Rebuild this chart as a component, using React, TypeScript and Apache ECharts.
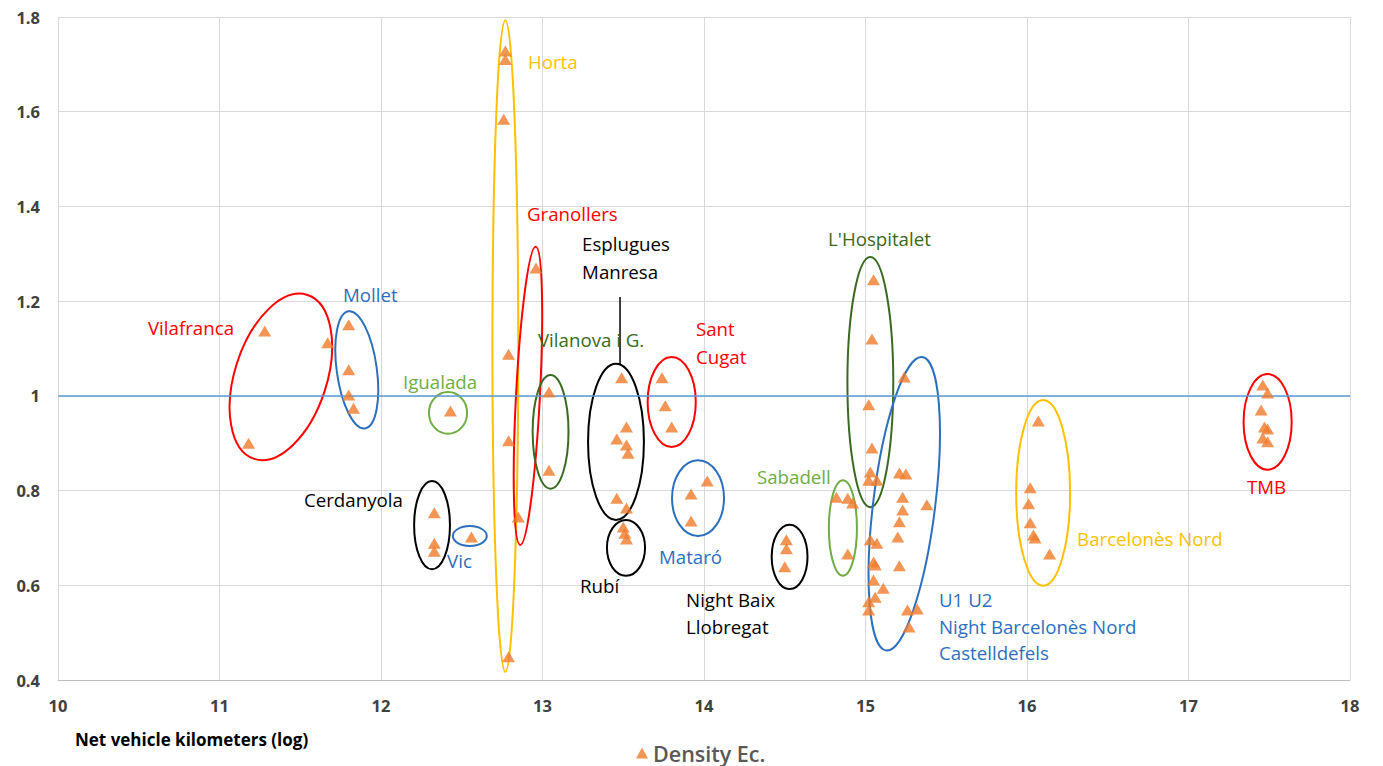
import React, { useEffect, useRef } from "react";
import * as echarts from "echarts";

// x: net vehicle kilometers (log), y: density
const densityX = [
  11.28, 11.67, 11.18,
  11.8, 11.8, 11.8, 11.83,
  12.43,
  12.33, 12.33, 12.33,
  12.56,
  12.77, 12.77, 12.76, 12.79, 12.79, 12.79,
  12.96, 12.85,
  13.04, 13.04,
  13.49, 13.52, 13.46, 13.52, 13.53, 13.46, 13.52,
  13.5, 13.51, 13.52,
  13.74, 13.76, 13.8,
  14.02, 13.92, 13.92,
  14.51, 14.51, 14.5,
  14.82, 14.89, 14.92, 14.89,
  15.05, 15.04, 15.02, 15.04, 15.03, 15.02, 15.07,
  15.03, 15.07, 15.05, 15.06, 15.05, 15.11, 15.06, 15.02, 15.02,
  15.24, 15.21, 15.25, 15.23, 15.38, 15.23, 15.21, 15.2, 15.21, 15.26, 15.32, 15.27,
  16.07, 16.02, 16.01, 16.02, 16.04, 16.05, 16.14,
  17.46, 17.49, 17.45, 17.47, 17.49, 17.46, 17.49,
];
const densityY = [
  1.137, 1.112, 0.9,
  1.15, 1.055, 1.002, 0.974,
  0.968,
  0.753, 0.689, 0.672,
  0.702,
  1.728, 1.71, 1.584, 1.088, 0.905, 0.449,
  1.27, 0.744,
  1.008, 0.843,
  1.038, 0.934, 0.909, 0.896, 0.879, 0.784, 0.763,
  0.723, 0.71, 0.698,
  1.038, 0.979, 0.934,
  0.82, 0.793, 0.736,
  0.696, 0.677, 0.639,
  0.786, 0.784, 0.774, 0.666,
  1.245, 1.12, 0.981, 0.89, 0.839, 0.822, 0.822,
  0.696, 0.689, 0.649, 0.643, 0.611, 0.594, 0.575, 0.565, 0.548,
  1.04, 0.837, 0.835, 0.786, 0.77, 0.759, 0.734, 0.702, 0.641, 0.548, 0.55, 0.512,
  0.947, 0.806, 0.772, 0.732, 0.706, 0.7, 0.666,
  1.023, 1.006, 0.97, 0.934, 0.93, 0.911, 0.903,
];

const xTicks = { min: 10, max: 18, interval: 1 };
const yTicks = { min: 0.4, max: 1.8, interval: 0.2 };
const referenceLevel = 1;

const RED = "#ff0000";
const BLUE = "#2e6fbd";
const YELLOW = "#ffc000";
const DKGREEN = "#3a6a22";
const LTGREEN = "#70ad47";
const BLACK = "#000000";

// group ellipses: center (data), radii (data units), clockwise tilt (deg)
const groupNames = ["Vilafranca", "Mollet", "Igualada", "Cerdanyola", "Vic", "Horta", "Granollers", "Vilanova i G.", "Esplugues Manresa", "Rubí", "Sant Cugat", "Mataró", "Night Baix Llobregat", "Sabadell", "L'Hospitalet", "U1 U2", "Barcelonès Nord", "TMB"];
const groupCx = [11.38, 11.85, 12.415, 12.316, 12.55, 12.77, 12.91, 13.05, 13.455, 13.517, 13.8, 13.963, 14.53, 14.86, 15.03, 15.24, 16.1, 17.49];
const groupCy = [1.04, 1.055, 0.964, 0.727, 0.704, 1.105, 1.0, 0.924, 0.903, 0.679, 0.987, 0.784, 0.66, 0.721, 1.029, 0.772, 0.795, 0.945];
const groupRx = [0.285, 0.124, 0.118, 0.111, 0.105, 0.08, 0.074, 0.111, 0.173, 0.118, 0.149, 0.161, 0.111, 0.087, 0.142, 0.192, 0.167, 0.149];
const groupRy = [0.182, 0.125, 0.044, 0.093, 0.021, 0.688, 0.315, 0.12, 0.165, 0.059, 0.095, 0.08, 0.068, 0.101, 0.264, 0.312, 0.196, 0.101];
const groupTilt = [18, -8, 0, 0, 0, 0, 3, 0, 0, 0, 0, 0, 0, 0, 0, 7, 0, 0];
const groupColor = [RED, BLUE, LTGREEN, BLACK, BLUE, YELLOW, RED, DKGREEN, BLACK, BLACK, RED, BLUE, BLACK, LTGREEN, DKGREEN, BLUE, YELLOW, RED];

// text labels: left anchor in data coordinates
const labelText = ["Horta", "Granollers", "Esplugues", "Manresa", "Mollet", "Vilafranca", "Sant", "Cugat", "Vilanova i G.", "L'Hospitalet", "Igualada", "Sabadell", "TMB", "Cerdanyola", "Vic", "Mataró", "Barcelonès Nord", "Rubí", "Night Baix", "Llobregat", "U1 U2", "Night Barcelonès Nord", "Castelldefels"];
const labelX = [12.91, 12.904, 13.245, 13.245, 11.765, 10.557, 13.95, 13.95, 12.972, 14.768, 12.136, 14.328, 17.362, 11.523, 12.409, 13.721, 16.31, 13.232, 13.889, 13.889, 15.455, 15.455, 15.455];
const labelY = [1.707, 1.386, 1.321, 1.262, 1.213, 1.145, 1.143, 1.084, 1.118, 1.333, 1.031, 0.829, 0.808, 0.782, 0.653, 0.66, 0.698, 0.599, 0.571, 0.512, 0.571, 0.512, 0.459];
const labelColor = [YELLOW, RED, BLACK, BLACK, BLUE, RED, RED, RED, DKGREEN, DKGREEN, LTGREEN, LTGREEN, RED, BLACK, BLUE, BLUE, YELLOW, BLACK, BLACK, BLACK, BLUE, BLUE, BLUE];

// leader line from "Esplugues Manresa" label to its ellipse
const leaderX = [13.48, 13.48];
const leaderY = [1.209, 1.067];

export default function App() {
  const ref = useRef<HTMLDivElement>(null);
  useEffect(() => {
    if (!ref.current) return;
    const chart = echarts.init(ref.current, null, { renderer: "svg" });
    const font = "'Open Sans', 'Noto Sans', sans-serif";
    const option: any = {
      animation: false,
      backgroundColor: "#ffffff",
      grid: { left: 58, right: 33, top: 17, bottom: 86, containLabel: false },
      xAxis: {
        type: "value",
        min: xTicks.min,
        max: xTicks.max,
        interval: xTicks.interval,
        axisLine: { show: true, lineStyle: { color: "#bfbfbf" } },
        axisTick: { show: false },
        axisLabel: { color: "#404040", fontWeight: "bold", fontSize: 16.5, fontFamily: font, margin: 17 },
        splitLine: { show: true, lineStyle: { color: "#d9d9d9", width: 1 } },
      },
      yAxis: {
        type: "value",
        min: yTicks.min,
        max: yTicks.max,
        interval: yTicks.interval,
        axisLine: { show: false },
        axisTick: { show: false },
        axisLabel: { color: "#404040", fontWeight: "bold", fontSize: 16.5, fontFamily: font, margin: 18 },
        splitLine: { show: true, lineStyle: { color: "#d9d9d9", width: 1 } },
      },
      legend: {
        data: ["Density Ec."],
        left: 631,
        top: 737,
        itemWidth: 12,
        itemHeight: 11,
        itemGap: 4,
        textStyle: { color: "#595959", fontSize: 21.5, fontWeight: 600, fontFamily: font },
      },
      graphic: [
        {
          type: "text",
          left: 75,
          top: 731,
          style: { text: "Net vehicle kilometers (log)", fill: "#000", font: `bold 17px ${font}` },
        },
      ],
      series: [
        {
          type: "custom",
          name: "groups",
          silent: true,
          z: 3,
          data: groupCx.map((x, i) => [x, groupCy[i]]),
          renderItem: (params: any, api: any) => {
            const i = params.dataIndex;
            const c = api.coord([groupCx[i], groupCy[i]]);
            const s = api.size([groupRx[i], groupRy[i]]);
            return {
              type: "ellipse",
              x: c[0],
              y: c[1],
              rotation: (-groupTilt[i] * Math.PI) / 180,
              shape: { cx: 0, cy: 0, rx: s[0], ry: s[1] },
              style: { fill: "none", stroke: groupColor[i], lineWidth: 2 },
            };
          },
        },
        {
          type: "custom",
          name: "leader",
          silent: true,
          z: 3,
          data: [[leaderX[0], leaderY[0]]],
          renderItem: (params: any, api: any) => {
            const a = api.coord([leaderX[0], leaderY[0]]);
            const b = api.coord([leaderX[1], leaderY[1]]);
            return {
              type: "line",
              shape: { x1: a[0], y1: a[1], x2: b[0], y2: b[1] },
              style: { stroke: "#000", lineWidth: 1.5 },
            };
          },
        },
        {
          type: "custom",
          name: "labels",
          silent: true,
          z: 4,
          clip: false,
          data: labelX.map((x, i) => [x, labelY[i]]),
          renderItem: (params: any, api: any) => {
            const i = params.dataIndex;
            const c = api.coord([labelX[i], labelY[i]]);
            return {
              type: "text",
              x: c[0],
              y: c[1],
              style: {
                text: labelText[i],
                fill: labelColor[i],
                font: `18.7px ${font}`,
                textAlign: "left",
                textVerticalAlign: "middle",
              },
            };
          },
        },
        {
          type: "scatter",
          name: "Density Ec.",
          symbol: "triangle",
          symbolSize: [13, 11],
          z: 5,
          itemStyle: { color: "#ef7b2a" },
          data: densityX.map((x, i) => [x, densityY[i]]),
          markLine: {
            silent: true,
            symbol: "none",
            label: { show: false },
            lineStyle: { color: "#5b9bd5", width: 1.5, type: "solid" },
            data: [{ yAxis: referenceLevel }],
          },
        },
      ],
    };
    chart.setOption(option);
    return () => chart.dispose();
  }, []);
  return (
    <div
      ref={ref}
      style={{ position: "fixed", left: 0, top: 0, width: 1383, height: 766, background: "#fff" }}
    />
  );
}
